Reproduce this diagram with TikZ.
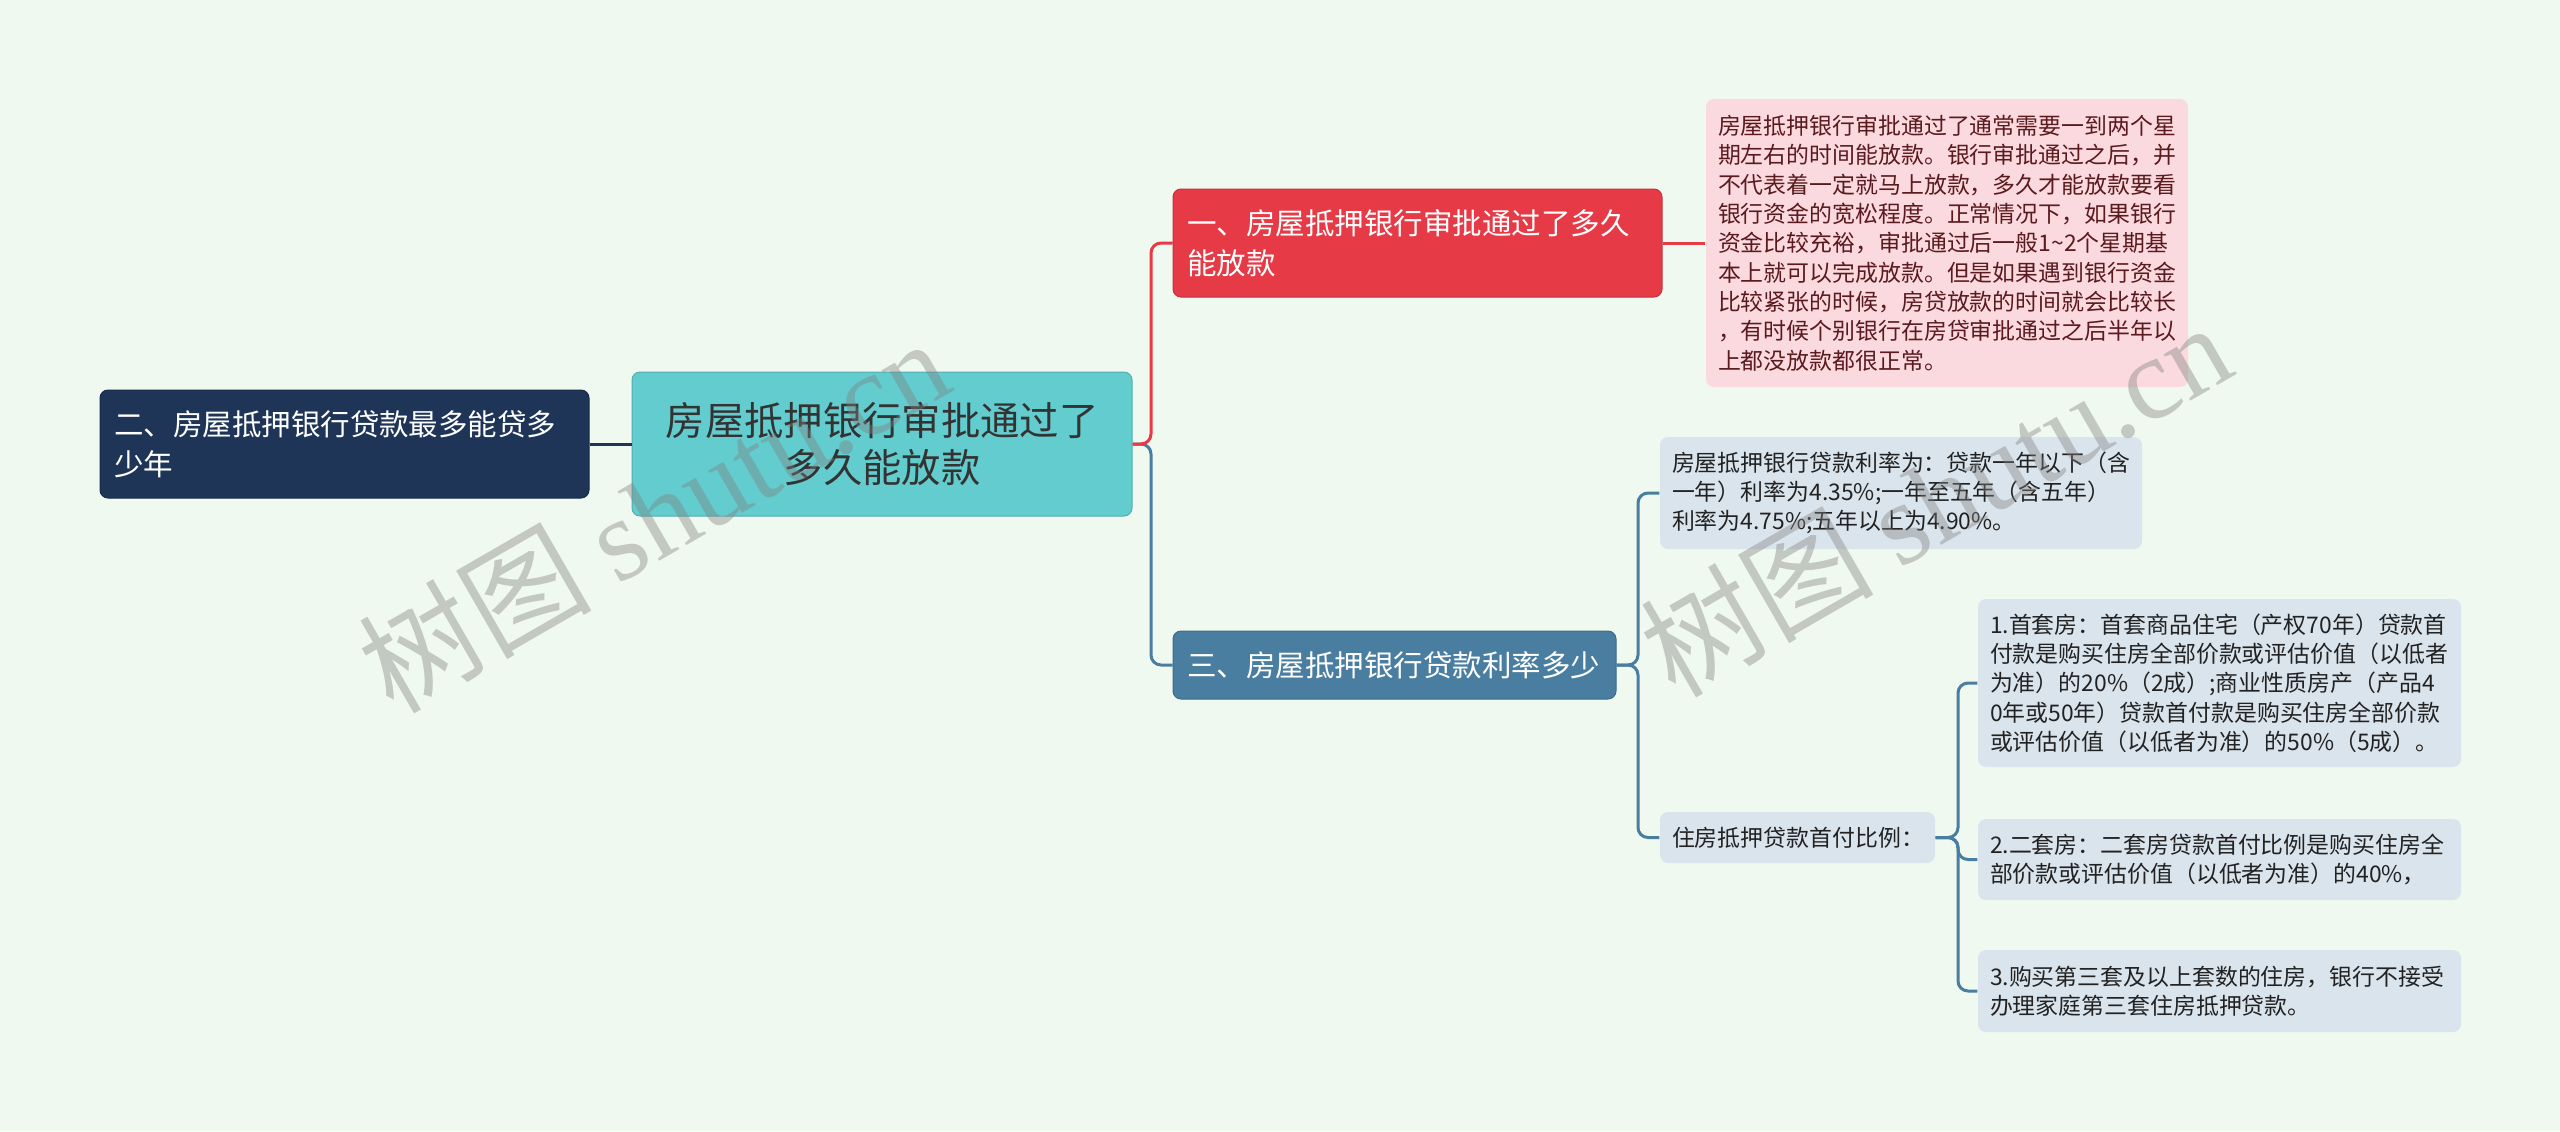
\documentclass[tikz,border=0pt]{standalone}
\usepackage{fontspec}
\setmainfont{Noto Sans CJK SC}
\newfontfamily\wmserif{Liberation Serif}
\newfontfamily\wmcjk{Noto Sans CJK SC}
\definecolor{bgc}{HTML}{F0F9EF}
\definecolor{rootc}{HTML}{63CCCE}
\definecolor{navyc}{HTML}{1E3557}
\definecolor{redc}{HTML}{E63A47}
\definecolor{pinkc}{HTML}{FBDADF}
\definecolor{pinktext}{HTML}{5A1A1E}
\definecolor{bluec}{HTML}{4A7EA1}
\definecolor{notec}{HTML}{DAE4EC}
\definecolor{notetext}{HTML}{222222}
\begin{document}
\begin{tikzpicture}[x=0.3pt,y=-0.3pt,
  boxbase/.style={rounded corners=2.4pt, inner ysep=0pt},
  rootbox/.style={boxbase, fill=rootc, draw=rootc!85!black, line width=0.3pt, text=black!80, align=center,
    minimum width=150pt, minimum height=43.2pt, font=\fontsize{11.8pt}{14pt}\selectfont},
  lvlbox/.style={boxbase, inner xsep=4.2pt, align=left, text=white,
    font=\fontsize{8.85pt}{12pt}\selectfont},
  notebox/.style={boxbase, inner xsep=3.6pt, align=left, fill=notec, text=notetext,
    font=\fontsize{6.87pt}{8.8pt}\selectfont},
  linkline/.style={line width=0.9pt, rounded corners=3pt},
  wm/.style={rotate=30, text=gray, opacity=0.4, font=\fontsize{35pt}{35pt}\selectfont}
]
\fill[bgc] (0,0) rectangle (2560,1131);
\useasboundingbox (0,0) rectangle (2560,1131);

% nodes
\node[rootbox] (root) at (882,444) {房屋抵押银行审批通过了\\多久能放款};
\node[lvlbox, fill=navyc, draw=navyc!80!black, line width=0.3pt, minimum width=146.7pt, minimum height=32.4pt, text width=138.3pt] (n2) at (344.5,444)
  {二、房屋抵押银行贷款最多能贷多\\少年};
\node[lvlbox, fill=redc, draw=redc!85!black, line width=0.3pt, minimum width=146.7pt, minimum height=32.4pt, text width=138.3pt] (n1) at (1417.5,243)
  {一、房屋抵押银行审批通过了多久\\能放款};
\node[lvlbox, fill=bluec, draw=bluec!85!black, line width=0.3pt, minimum width=132.9pt, minimum height=20.4pt, text width=124.5pt] (n3) at (1394.5,665)
  {三、房屋抵押银行贷款利率多少};
\node[notebox, fill=pinkc, text=pinktext, minimum width=144.6pt, minimum height=86.4pt, text width=137.4pt] (pink) at (1947,243)
  {房屋抵押银行审批通过了通常需要一到两个星\\
   期左右的时间能放款。银行审批通过之后，并\\
   不代表着一定就马上放款，多久才能放款要看\\
   银行资金的宽松程度。正常情况下，如果银行\\
   资金比较充裕，审批通过后一般1\textasciitilde2个星期基\\
   本上就可以完成放款。但是如果遇到银行资金\\
   比较紧张的时候，房贷放款的时间就会比较长\\
   ，有时候个别银行在房贷审批通过之后半年以\\
   上都没放款都很正常。};
\node[notebox, minimum width=144.6pt, minimum height=33.6pt, text width=137.4pt] (rate) at (1901,493)
  {房屋抵押银行贷款利率为：贷款一年以下（含\\
   一年）利率为4.35\%;一年至五年（含五年）\\
   利率为4.75\%;五年以上为4.90\%。};
\node[notebox, minimum width=82.5pt, minimum height=15.3pt, text width=75.3pt] (house) at (1797.5,837.5)
  {住房抵押贷款首付比例：};
\node[notebox, minimum width=144.9pt, minimum height=50.4pt, text width=137.7pt] (i1) at (2219.5,683)
  {1.首套房：首套商品住宅（产权70年）贷款首\\
   付款是购买住房全部价款或评估价值（以低者\\
   为准）的20\%（2成）;商业性质房产（产品4\\
   0年或50年）贷款首付款是购买住房全部价款\\
   或评估价值（以低者为准）的50\%（5成）。};
\node[notebox, minimum width=144.9pt, minimum height=24.3pt, text width=137.7pt] (i2) at (2219.5,859.5)
  {2.二套房：二套房贷款首付比例是购买住房全\\
   部价款或评估价值（以低者为准）的40\%，};
\node[notebox, minimum width=144.9pt, minimum height=24.6pt, text width=137.7pt] (i3) at (2219.5,991)
  {3.购买第三套及以上套数的住房，银行不接受\\
   办理家庭第三套住房抵押贷款。};

% junctions
\coordinate (j1) at (1151,444);
\coordinate (j2) at (1638,665);
\coordinate (j3) at (1958,837.5);

% connectors
\draw[linkline, draw=navyc] (root.west) -- (n2.east);
\draw[linkline, draw=bluec] (root.east) -- (j1) |- (n3.west);
\draw[linkline, draw=redc] (root.east) -- (j1) |- (n1.west);
\draw[linkline, draw=redc] (n1.east) -- (pink.west);
\draw[linkline, draw=bluec] (n3.east) -- (j2) |- (rate.west);
\draw[linkline, draw=bluec] (n3.east) -- (j2) |- (house.west);
\draw[linkline, draw=bluec] (house.east) -- (j3) |- (i1.west);
\draw[linkline, draw=bluec] (house.east) -- (j3) |- (i2.west);
\draw[linkline, draw=bluec] (house.east) -- (j3) |- (i3.west);

% watermarks
\node[wm] (wm1) at (653,514) {{\wmcjk 树图} {\wmserif shutu.cn}};
\node[wm] (wm2) at (1935,498) {{\wmcjk 树图} {\wmserif shutu.cn}};
\end{tikzpicture}
\end{document}
